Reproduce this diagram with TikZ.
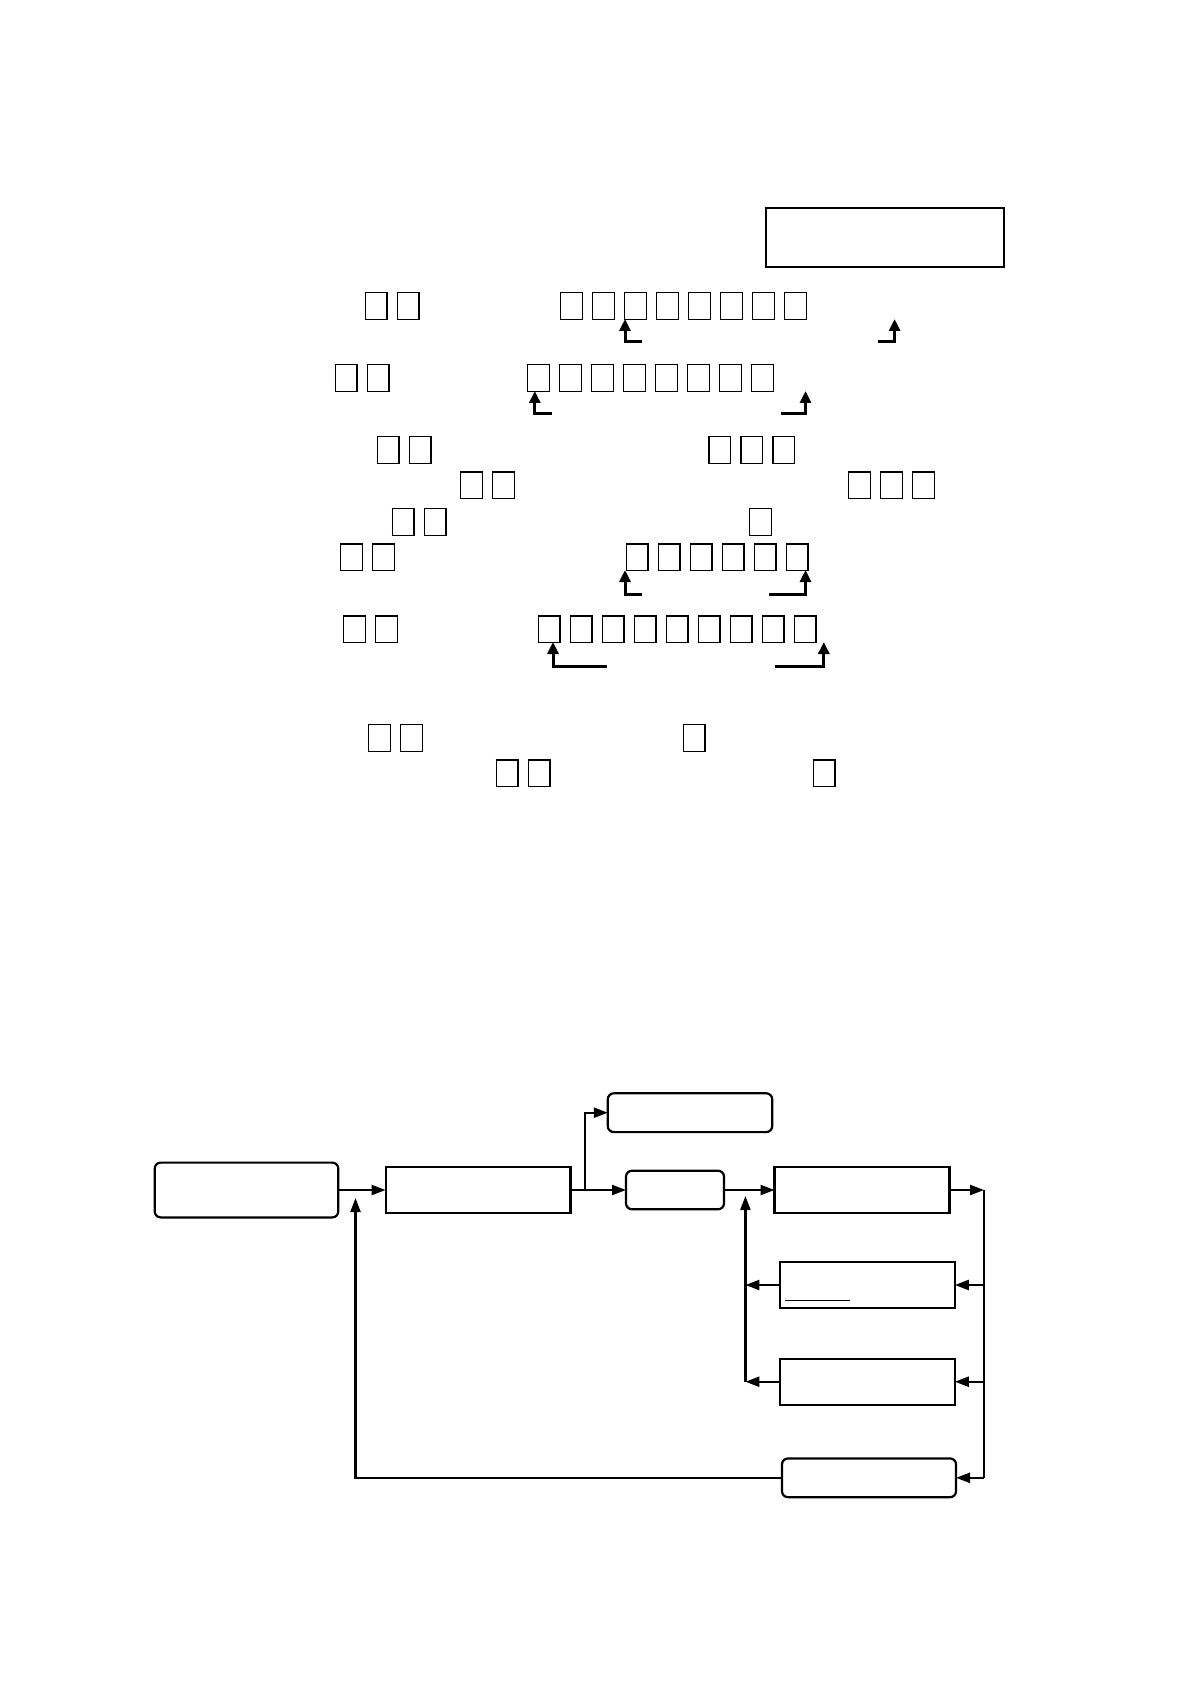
\documentclass[tikz,border=0pt]{standalone}
\usetikzlibrary{arrows.meta}
\newcommand\tofu{\hbox to 16pt{\hss\vbox{\hrule height .6pt\hbox{\vrule width .6pt height 12.8pt\hskip 10.3pt\vrule width .6pt}\hrule height .6pt}\hss}}
\tikzset{
  tx/.style={inner sep=0pt, outer sep=0pt, anchor=west},
  bent/.style={line width=1.5pt, -{Triangle[length=6pt,width=5.5pt]}},
  flow/.style={line width=1.1pt, -{Triangle[length=7pt,width=5pt]}},
  plain/.style={line width=1.1pt},
  sq/.style={draw, line width=1.1pt, inner sep=0pt, outer sep=0pt},
  rbox/.style={sq, rounded corners=3pt},
}
\begin{document}
\begin{tikzpicture}[x=0.5pt,y=-0.5pt]
\useasboundingbox (0,0) rectangle (1190,1684);
% top box
\node[sq, minimum width=119pt, minimum height=29.5pt] (T) at (885,237.5) {};
% text rows
\node[tx] (r1a) at (360,306) {\tofu\tofu};
\node[tx] (r1b) at (555.5,306) {\tofu\tofu\tofu\tofu\tofu\tofu\tofu\tofu};
\node[tx] (r2a) at (330,378) {\tofu\tofu};
\node[tx] (r2b) at (522.3,378) {\tofu\tofu\tofu\tofu\tofu\tofu\tofu\tofu};
\node[tx] (r3a) at (372,450) {\tofu\tofu};
\node[tx] (r3b) at (703.8,450) {\tofu\tofu\tofu};
\node[tx] (r4a) at (455.7,485.4) {\tofu\tofu};
\node[tx] (r4b) at (843.4,485.4) {\tofu\tofu\tofu};
\node[tx] (r5a) at (387,522) {\tofu\tofu};
\node[tx] (r5b) at (744.6,522) {\tofu};
\node[tx] (r6a) at (335.4,557.4) {\tofu\tofu};
\node[tx] (r6b) at (621,557.4) {\tofu\tofu\tofu\tofu\tofu\tofu};
\node[tx] (r7a) at (338.6,629.4) {\tofu\tofu};
\node[tx] (r7b) at (533,629.4) {\tofu\tofu\tofu\tofu\tofu\tofu\tofu\tofu\tofu};
\node[tx] (r8a) at (363.3,737.8) {\tofu\tofu};
\node[tx] (r8b) at (678,737.8) {\tofu};
\node[tx] (r9a) at (491,773.3) {\tofu\tofu};
\node[tx] (r9b) at (808,773.3) {\tofu};
% bent arrows
\coordinate (a1s) at (642,341.5); \coordinate (a1t) at (625,319);
\coordinate (b1s) at (877.5,341.5); \coordinate (b1t) at (894.6,319);
\coordinate (a2s) at (552,413.5); \coordinate (a2t) at (534.8,391);
\coordinate (b2s) at (780.8,413.5); \coordinate (b2t) at (805.5,391);
\coordinate (a6s) at (642,594); \coordinate (a6t) at (625,570);
\coordinate (b6s) at (769,594); \coordinate (b6t) at (805.5,570);
\coordinate (a7s) at (606.8,666); \coordinate (a7t) at (553,642);
\coordinate (b7s) at (775.4,666); \coordinate (b7t) at (823.8,642);
\foreach \p in {a1,b1,a2,b2,a6,b6,a7,b7} \draw[bent] (\p s) -| (\p t);
% flowchart
\node[rbox, minimum width=91.8pt, minimum height=27.4pt] (A) at (246.5,1190) {};
\node[sq, minimum width=92.4pt, minimum height=23pt] (B) at (478,1190) {};
\node[rbox, minimum width=82.2pt, minimum height=19.4pt] (C) at (690,1112.7) {};
\node[rbox, minimum width=49pt, minimum height=19.3pt] (D) at (675,1190) {};
\node[sq, minimum width=87.5pt, minimum height=23.1pt] (E) at (862,1190) {};
\node[sq, minimum width=87.5pt, minimum height=23pt] (F) at (867.3,1285) {};
\node[sq, minimum width=87.5pt, minimum height=23pt] (G) at (867.3,1381.7) {};
\node[rbox, minimum width=87pt, minimum height=19.4pt] (H) at (869,1477.8) {};
\draw[line width=0.5pt] (785,1300.6) -- (849.5,1300.6);
\draw[flow] (A) -- (B);
\draw[flow] (B) -- (D);
\coordinate (j1) at (585.3,1190);
\draw[flow] (j1) |- (C.west);
\draw[flow] (D) -- (E);
\coordinate (busT) at (984,1190);
\coordinate (busB) at (984,1477.8);
\draw[flow] (E) -- (busT);
\draw[plain] (busT) -- (busB);
\draw[flow] (busT |- F.east) -- (F.east);
\draw[flow] (busT |- G.east) -- (G.east);
\draw[flow] (busB) -- (H.east);
\coordinate (lb) at (745.4,1381.7);
\coordinate (lt) at (745.4,1196);
\draw[flow] (F.west) -- (F.west -| lb);
\draw[flow] (G.west) -- (lb);
\draw[flow] (lb) -- (lt);
\coordinate (fb) at (355.5,1477.8);
\coordinate (fbt) at (355.5,1198);
\draw[flow] (H.west) -- (fb) -- (fbt);
\end{tikzpicture}
\end{document}
